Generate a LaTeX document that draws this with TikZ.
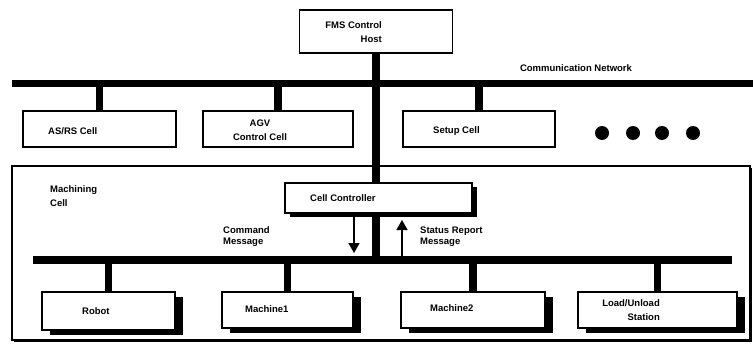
\documentclass[tikz,border=0pt]{standalone}
\usepackage{fontspec}
\setmainfont{Liberation Sans}
\usetikzlibrary{arrows.meta, positioning, shadows}

\begin{document}
\begin{tikzpicture}[x=1pt,y=-1pt,>=Stealth,
    font=\fontsize{9.5}{13.5}\selectfont\bfseries,
    box/.style={draw,line width=1.3pt,fill=white,inner sep=0pt},
    shadowbox/.style={box,drop shadow={shadow xshift=8pt,shadow yshift=-5pt,fill=black,opacity=1}},
    bus/.style={line width=7.5pt},
    msg/.style={line width=1.6pt,-{Triangle[width=11pt,length=10pt]}},
    lbl/.style={inner sep=0pt,anchor=west,align=left}]
  \useasboundingbox (0,0) rectangle (753,345);
  % upper level
  \node[box,minimum width=153pt,minimum height=43pt] (host) at (376,31.5) {};
  \node[lbl,anchor=east,align=right] (hostlbl) at (382,32) {FMS Control\\Host};
  \coordinate (netL) at (12,83.5);
  \coordinate (netR) at (753,83.5);
  \draw[bus] (netL) -- (netR);
  \node[inner sep=0pt] (netlbl) at (576,68) {Communication Network};
  \node[box,minimum width=153pt,minimum height=36pt] (asrs) at (99.5,129) {};
  \node[box,minimum width=150pt,minimum height=36pt] (agv) at (278,129) {};
  \node[box,minimum width=152pt,minimum height=36pt] (setup) at (479,129) {};
  \node[lbl] (asrslbl) at (48,131) {AS/RS Cell};
  \node[lbl,anchor=center,align=center] (agvlbl) at (260,130) {AGV\\Control Cell};
  \node[lbl] (setuplbl) at (433,131) {Setup Cell};
  \foreach \s in {asrs,agv,setup}
    \draw[bus] (\s.north) -- (\s.north |- netL);
  \foreach \x in {602,633,662,693}
    \fill (\x,133) circle (7pt);
  % machining cell
  \node[box,minimum width=738pt,minimum height=174pt,
    drop shadow={shadow xshift=2pt,shadow yshift=-2pt,fill=black,opacity=1}] (mcell) at (381,253) {};
  \node[lbl] (mcelllbl) at (50,196) {Machining\\Cell};
  \node[box,minimum width=187pt,minimum height=30pt,
    drop shadow={shadow xshift=5pt,shadow yshift=-4pt,fill=black,opacity=1}] (cc) at (378.5,198) {};
  \node[lbl] (cclbl) at (310,198) {Cell Controller};
  \coordinate (cbusL) at (33,260);
  \coordinate (cbusR) at (732,260);
  \draw[bus] (cbusL) -- (cbusR);
  \draw[bus] (host.south) -- (host.south |- cc.north);
  \draw[bus] (host.south |- cc.south) -- (host.south |- cbusL);
  \coordinate (cmd) at (354,253);
  \coordinate (rep) at (402,220);
  \draw[msg] (cmd |- cc.south) -- (cmd);
  \draw[msg] (rep |- cbusL) -- (rep);
  \node[lbl,font=\fontsize{9.5}{11}\selectfont\bfseries] (cmdlbl) at (223,237) {Command\\Message};
  \node[lbl,font=\fontsize{9.5}{11}\selectfont\bfseries] (replbl) at (420,237) {Status Report\\Message};
  % machines
  \node[shadowbox,minimum width=133pt,minimum height=38pt] (robot) at (108.5,311) {};
  \node[shadowbox,minimum width=131pt,minimum height=36pt] (mach1) at (287.5,310) {};
  \node[shadowbox,minimum width=144pt,minimum height=36pt] (mach2) at (473,310) {};
  \node[shadowbox,minimum width=159pt,minimum height=36pt] (load) at (657.5,310) {};
  \foreach \m in {robot,mach1,mach2,load}
    \draw[bus] (\m.north) -- (\m.north |- cbusL);
  \node[lbl] (robotlbl) at (82,311) {Robot};
  \node[lbl] (mach1lbl) at (245,309) {Machine1};
  \node[lbl] (mach2lbl) at (430,308) {Machine2};
  \node[lbl,anchor=east,align=right] (loadlbl) at (660,310) {Load/Unload\\Station};
\end{tikzpicture}
\end{document}
